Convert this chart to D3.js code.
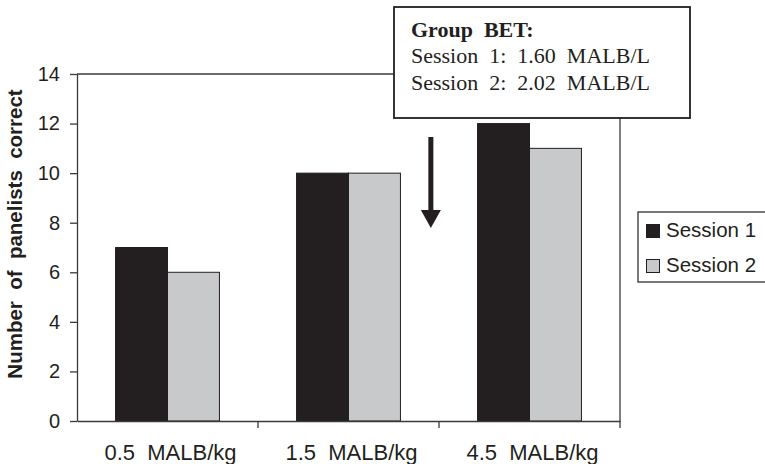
<!DOCTYPE html>
<html lang="en">
    <head>
        <meta charset="utf-8">
        <title>Panelists correct by dose</title>
        <script type="text/javascript" src="https://d3js.org/d3.v7.min.js"></script>
        <style type="text/css">
            body { margin: 0; background: white; }
            text { font-family: Arial, "Liberation Sans", sans-serif; fill: #231f20; white-space: pre; }
            .note text { font-family: "Times New Roman", "Liberation Serif", serif; }
        </style>
    </head>
    <body>
        <script type="text/javascript">

        // Datos
        var categories = ["0.5  MALB/kg", "1.5  MALB/kg", "4.5  MALB/kg"];
        var series = ["Session 1", "Session 2"];
        var session1 = [7, 10, 12];
        var session2 = [6, 10, 11];
        var yTicks = [0, 2, 4, 6, 8, 10, 12, 14];
        var noteTitle = "Group  BET:";
        var noteLines = ["Session  1:  1.60  MALB/L", "Session  2:  2.02  MALB/L"];

        var w = 765;
        var h = 464;
        var mLeft = 77, mRight = 620, mTop = 74, mBottom = 421;
        var colors = ["#231f20", "#c8c9cb"];
        var ink = "#3a3a3a";

        var svg = d3.select("body")
                    .append("svg")
                    .attr("width", w)
                    .attr("height", h);

        // Escalas
        var x0 = d3.scaleBand()
            .domain(categories)
            .range([mLeft, mRight]);

        var x1 = d3.scaleBand()
            .domain(series)
            .range([x0.bandwidth() * 0.213, x0.bandwidth() * 0.787]);

        var y = d3.scaleLinear()
            .domain([0, 14])
            .range([mBottom, mTop]);

        // Marco del area de trazado
        svg.append("path")
            .attr("d", "M" + mLeft + "," + mTop + "H" + mRight + "V" + mBottom)
            .attr("fill", "none")
            .attr("stroke", ink)
            .attr("stroke-width", 1.3);

        // Barras
        var rows = categories.map(function(c, i){
            return {cat: c, values: [session1[i], session2[i]]};
        });

        var groups = svg.selectAll("g.grp")
            .data(rows)
            .enter()
            .append("g")
            .attr("class", "grp")
            .attr("transform", function(d){ return "translate(" + x0(d.cat) + ",0)"; });

        groups.selectAll("rect")
            .data(function(d){ return d.values.map(function(v, j){ return {s: series[j], v: v, j: j}; }); })
            .enter()
            .append("rect")
            .attr("x", function(d){ return x1(d.s); })
            .attr("y", function(d){ return y(d.v); })
            .attr("width", x1.bandwidth())
            .attr("height", function(d){ return y(0) - y(d.v); })
            .attr("fill", function(d){ return colors[d.j]; })
            .attr("stroke", "#231f20")
            .attr("stroke-width", 1);

        // Eje Y
        var yAxis = svg.append("g")
            .attr("transform", "translate(" + mLeft + ",0)")
            .call(d3.axisLeft(y).tickValues(yTicks).tickSize(7).tickPadding(10).tickSizeOuter(0));
        yAxis.select(".domain").attr("stroke", ink).attr("stroke-width", 1.3);
        yAxis.selectAll("line").attr("stroke", ink).attr("stroke-width", 1.3);
        yAxis.selectAll("text")
            .attr("font-size", "20px")
            .attr("fill", "#231f20")
            .attr("font-family", "Arial, 'Liberation Sans', sans-serif");

        // Eje X
        var xAxis = svg.append("g")
            .attr("transform", "translate(0," + mBottom + ")")
            .call(d3.axisBottom(x0).tickSize(0).tickPadding(23).tickSizeOuter(0));
        xAxis.select(".domain").attr("stroke", ink).attr("stroke-width", 1.3);
        xAxis.selectAll("text")
            .attr("font-size", "22px")
            .attr("fill", "#231f20")
            .attr("dx", "3px")
            .attr("font-family", "Arial, 'Liberation Sans', sans-serif");

        // Marcas entre categorias
        var bounds = categories.map(function(c){ return x0(c) + x0.bandwidth(); });
        svg.selectAll("line.xt")
            .data(bounds)
            .enter()
            .append("line")
            .attr("class", "xt")
            .attr("x1", function(d){ return d; })
            .attr("x2", function(d){ return d; })
            .attr("y1", mBottom)
            .attr("y2", mBottom + 7)
            .attr("stroke", ink)
            .attr("stroke-width", 1.3);

        // Titulo eje Y
        svg.append("text")
            .attr("transform", "translate(22,234) rotate(-90)")
            .attr("text-anchor", "middle")
            .attr("font-size", "20.5px")
            .attr("font-weight", "bold")
            .text("Number  of  panelists  correct");

        // Flecha
        var ax = x0(categories[1]) + x0.bandwidth() * 0.955;
        svg.append("rect")
            .attr("x", ax - 2.5)
            .attr("y", 137)
            .attr("width", 5)
            .attr("height", 76)
            .attr("fill", "#231f20");
        svg.append("path")
            .attr("d", "M" + (ax - 10) + ",210L" + (ax + 10) + ",210L" + ax + ",228Z")
            .attr("fill", "#231f20");

        // Recuadro de nota
        var note = svg.append("g").attr("class", "note");
        note.append("rect")
            .attr("x", 394)
            .attr("y", 7)
            .attr("width", 296)
            .attr("height", 111)
            .attr("fill", "white")
            .attr("stroke", "#231f20")
            .attr("stroke-width", 1.8);
        note.append("text")
            .attr("x", 411)
            .attr("y", 37)
            .attr("font-size", "22px")
            .attr("font-weight", "bold")
            .text(noteTitle);
        note.selectAll("text.ln")
            .data(noteLines)
            .enter()
            .append("text")
            .attr("class", "ln")
            .attr("x", 411)
            .attr("y", function(d, i){ return 63 + i * 26.5; })
            .attr("font-size", "22px")
            .text(function(d){ return d; });

        // Leyenda
        var legend = svg.append("g");
        legend.append("rect")
            .attr("x", 638)
            .attr("y", 212)
            .attr("width", 140)
            .attr("height", 70)
            .attr("fill", "white")
            .attr("stroke", "#231f20")
            .attr("stroke-width", 1.2);
        var items = legend.selectAll("g.it")
            .data(series)
            .enter()
            .append("g")
            .attr("class", "it")
            .attr("transform", function(d, i){ return "translate(0," + (i * 35) + ")"; });
        items.append("rect")
            .attr("x", 646.5)
            .attr("y", 224.5)
            .attr("width", 13)
            .attr("height", 13)
            .attr("fill", function(d, i){ return colors[i]; })
            .attr("stroke", "#231f20")
            .attr("stroke-width", 1);
        items.append("text")
            .attr("x", 666)
            .attr("y", 237)
            .attr("font-size", "20.5px")
            .text(function(d){ return d; });

        </script>
    </body>
</html>
